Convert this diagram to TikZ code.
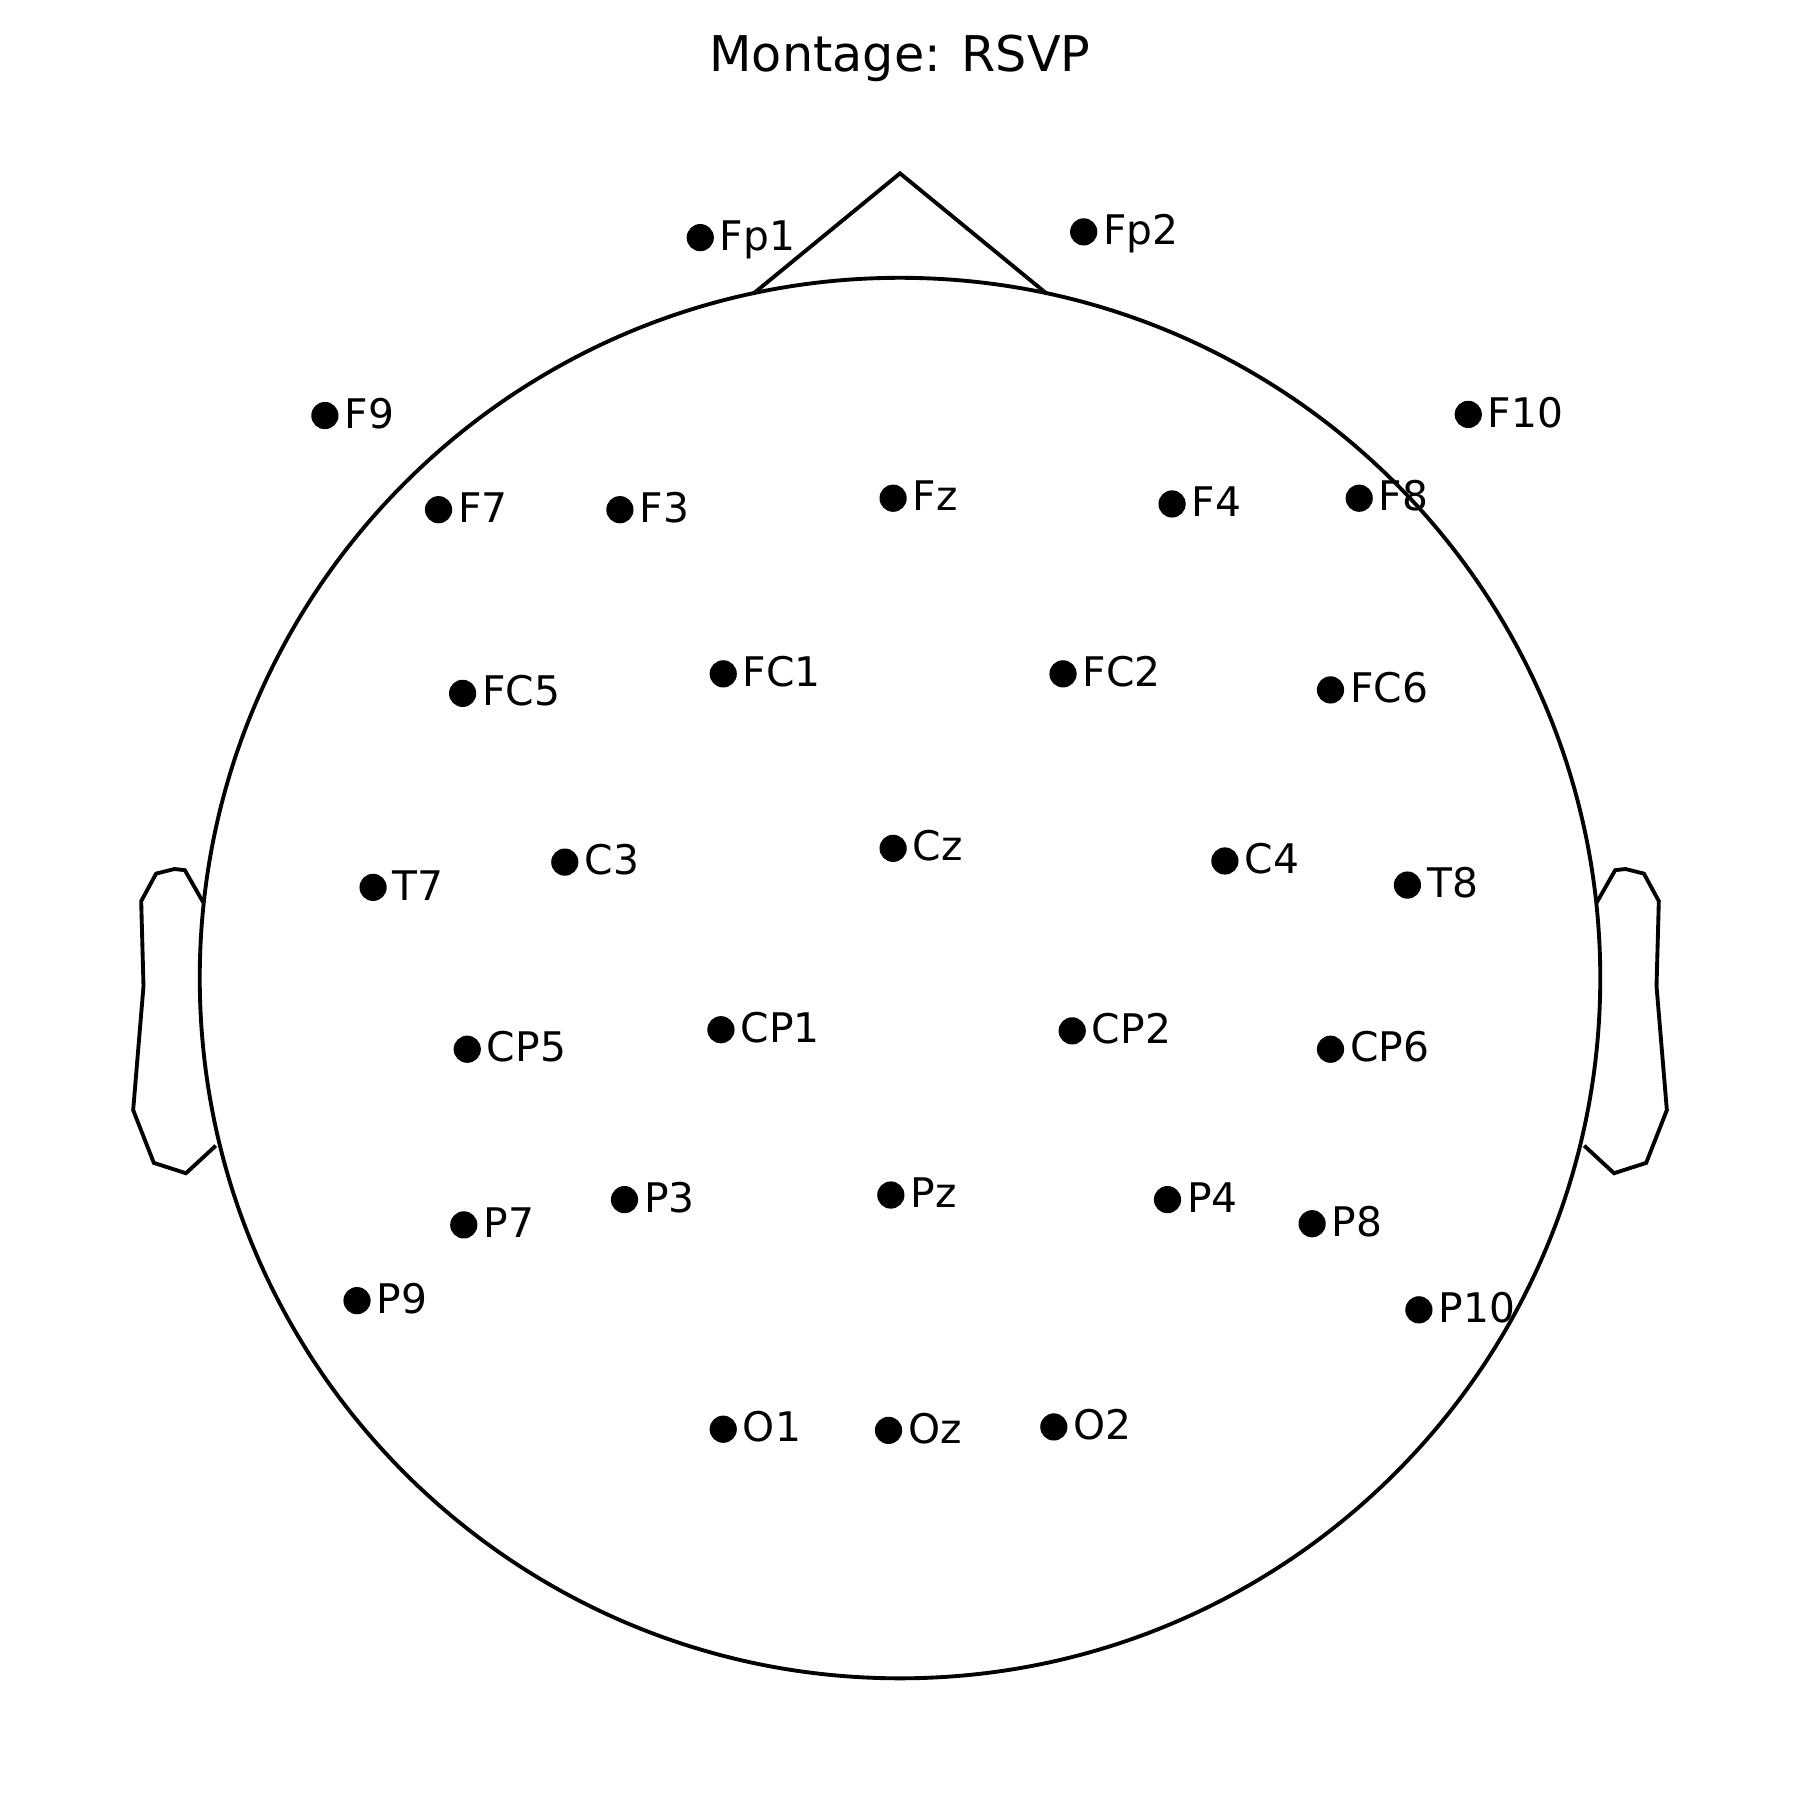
\documentclass[tikz,border=0pt]{standalone}
\usepackage{fontspec}
\setmainfont{DejaVu Sans}
\usetikzlibrary{calc}

\begin{document}
\begin{tikzpicture}[x=0.01148cm, y=-0.01148cm, line width=1.1pt,
    electrode/.style={circle, fill=black, inner sep=0pt, minimum size=0.272cm},
    elabel/.style={anchor=base west, inner sep=0pt, font=\fontsize{11.6}{13}\selectfont},
    headline/.style={line width=1.1pt, line join=miter}]
    \useasboundingbox (0,0) rectangle (1568,1568);

    % title
    \node[font=\fontsize{14}{17}\selectfont] (title) at (784,51) {Montage: RSVP};

    % head, nose and ears
    \draw[headline] (784,852) circle (610);
    \draw[headline] (656,256) -- (784,151) -- (912,256);
    \draw[headline] (177,786) -- (161,758) -- (152,757) -- (136,761) -- (123,785)
        -- (125,859) -- (116,967) -- (134,1013) -- (162,1022) -- (188,998);
    \draw[headline] (1391,786) -- (1407,758) -- (1416,757) -- (1432,761) -- (1445,785)
        -- (1443,859) -- (1452,967) -- (1434,1013) -- (1406,1022) -- (1380,998);

    % electrodes
    \foreach \n/\x/\y in {Fp1/610/207, Fp2/944/202, F9/283/362, F10/1279/361,
        F7/382/444, F3/540/444, Fz/778/434, F4/1021/439, F8/1184/434,
        FC5/403/604, FC1/630/587, FC2/926/587, FC6/1159/601,
        T7/325/773, C3/492/751, Cz/778/739, C4/1067/750, T8/1226/771,
        CP5/407/914, CP1/628/897, CP2/934/898, CP6/1159/914,
        P7/404/1067, P3/544/1045, Pz/776/1041, P4/1017/1045, P8/1143/1066,
        P9/311/1133, P10/1236/1141, O1/630/1245, Oz/774/1246, O2/918/1243} {
        \node[electrode] (\n) at (\x,\y) {};
        \node[elabel] (\n-t) at ([shift={(15.5,11)}]\n.center) {\n};
    }
\end{tikzpicture}
\end{document}
